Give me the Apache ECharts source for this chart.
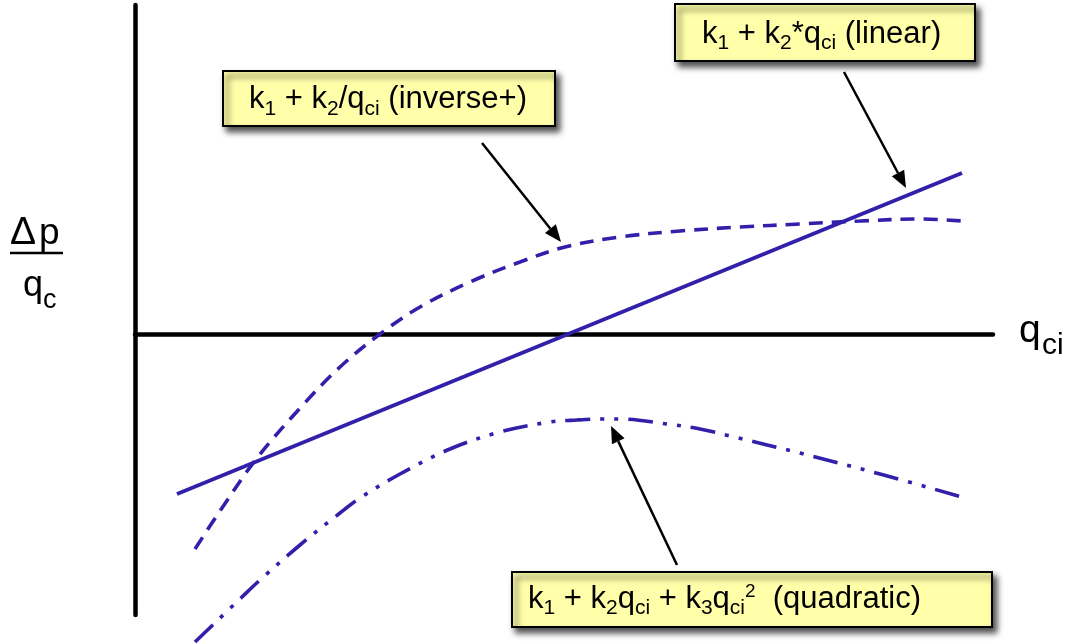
<!DOCTYPE html>
<html>
<head>
<meta charset="utf-8">
<script src="https://cdn.jsdelivr.net/npm/echarts@6/dist/echarts.min.js"></script>
<style>html,body{margin:0;padding:0;background:#fff}#c{width:1066px;height:644px}</style>
</head>
<body>
<div id="c"></div>
<script>
// x = q_ci (arbitrary units), y = Δp/q_c (arbitrary units); 0 is where the axes cross
const linearQ = [4.2, 82.7];
const linearVal = [-16.0, 16.1];

const inverseQ = [6.0, 8.5, 12.2, 16.7, 20.5, 24.5, 28.5, 33.5, 38.5, 43.0, 48.5, 54.5, 60.5, 66.5, 72.5, 78.5, 82.7];
const inverseVal = [-21.5, -17.7, -12.4, -7.2, -3.3, 0.0, 2.7, 5.2, 7.2, 8.7, 9.7, 10.3, 10.7, 11.0, 11.3, 11.5, 11.3];

const quadQ = [6.0, 10.7, 12.5, 16.5, 20.5, 22.5, 26.5, 31.5, 36.5, 41.5, 44.2, 46.8, 48.5, 53.2, 56.5, 59.5, 66.5, 74.5, 82.7];
const quadVal = [-30.8, -26.3, -24.6, -21.1, -17.9, -16.4, -14.0, -11.5, -9.8, -8.8, -8.6, -8.5, -8.5, -9.0, -9.5, -10.2, -11.9, -14.0, -16.3];

const labelLinear = '{m|k}{s|1}{m| + k}{s|2}{m|*q}{s|ci}{m| (linear)}';
const labelInverse = '{m|k}{s|1}{m| + k}{s|2}{m|/q}{s|ci}{m| (inverse+)}';
const labelQuad = '{m|k}{s|1}{m| + k}{s|2}{m|q}{s|ci}{m| + k}{s|3}{m|q}{s|ci}{p|2}{m|  (quadratic)}';

const zip = (a, b) => a.map((v, i) => [v, b[i]]);
const FONT = '"Liberation Sans", Arial, Helvetica, sans-serif';
const LINE = '#3220AA';

const rich = {
  m: {fontSize: 31, fontFamily: FONT, color: '#000', verticalAlign: 'top', padding: [4, 0, 0, 0]},
  s: {fontSize: 21, fontFamily: FONT, color: '#000', verticalAlign: 'top', padding: [18, 0, 0, 0]},
  p: {fontSize: 19, fontFamily: FONT, color: '#000', verticalAlign: 'top', padding: [2, 0, 0, 0]}
};

function box(x, y, w, h, label, tx, baseline) {
  return [
    {type: 'rect', shape: {x: x, y: y, width: w, height: h}, z: 10,
     style: {fill: '#FFFFAA', stroke: '#000', lineWidth: 2,
             shadowBlur: 6, shadowOffsetX: 4, shadowOffsetY: 5, shadowColor: 'rgba(0,0,0,0.7)'}},
    {type: 'text', x: tx, y: baseline - 10.7, z: 11,
     style: {text: label, rich: rich, verticalAlign: 'middle', align: 'left', fontFamily: FONT}}
  ];
}

function arrow(x1, y1, x2, y2) {
  const a = Math.atan2(y2 - y1, x2 - x1);
  const L = 17, W = 7;
  const bx = x2 - L * Math.cos(a), by = y2 - L * Math.sin(a);
  const px = -Math.sin(a) * W, py = Math.cos(a) * W;
  return [
    {type: 'line', shape: {x1: x1, y1: y1, x2: bx, y2: by}, z: 12, style: {stroke: '#000', lineWidth: 2.5}},
    {type: 'polygon', shape: {points: [[x2, y2], [bx + px, by + py], [bx - px, by - py]]}, z: 12, style: {fill: '#000'}}
  ];
}

const chart = echarts.init(document.getElementById('c'), null, {renderer: 'canvas'});
chart.setOption({
  animation: false,
  backgroundColor: '#fff',
  grid: {left: 135, right: 73, top: 5, bottom: 29},
  xAxis: {type: 'value', min: 0, max: 85.8,
          axisLine: {show: true, onZero: true, lineStyle: {color: '#000', width: 4.5}},
          axisTick: {show: false}, axisLabel: {show: false}, splitLine: {show: false}},
  yAxis: {type: 'value', min: -28.1, max: 32.9,
          axisLine: {show: true, onZero: true, lineStyle: {color: '#000', width: 4.5}},
          axisTick: {show: false}, axisLabel: {show: false}, splitLine: {show: false}},
  series: [
    {type: 'line', name: 'linear', data: zip(linearQ, linearVal), showSymbol: false, clip: false,
     lineStyle: {color: LINE, width: 3.8}},
    {type: 'line', name: 'inverse+', data: zip(inverseQ, inverseVal), showSymbol: false, clip: false, smooth: 0.35,
     lineStyle: {color: LINE, width: 3.6, type: [14, 9]}},
    {type: 'line', name: 'quadratic', data: zip(quadQ, quadVal), showSymbol: false, clip: false, smooth: 0.35,
     lineStyle: {color: LINE, width: 3.6, type: [25, 10, 4, 10, 4, 10]}}
  ],
  graphic: [].concat(
    box(223, 71, 332, 55, labelInverse, 249, 110.5),
    box(675, 4, 300, 57, labelLinear, 702, 45),
    box(512, 572, 480, 55, labelQuad, 528, 610),
    arrow(482, 143, 561, 242),
    arrow(844, 72, 906, 188),
    arrow(677, 565, 611, 426),
    [
      {type: 'text', x: 10, y: 247 - 13.5, style: {text: 'Δ', fontSize: 39, fontFamily: FONT, fill: '#000', verticalAlign: 'middle'}},
      {type: 'text', x: 39, y: 247 - 12.8, style: {text: 'p', fontSize: 37, fontFamily: FONT, fill: '#000', verticalAlign: 'middle'}},
      {type: 'line', shape: {x1: 10, y1: 253, x2: 63, y2: 253}, style: {stroke: '#000', lineWidth: 2.5}},
      {type: 'text', x: 23, y: 299 - 12.5, style: {text: 'q', fontSize: 36, fontFamily: FONT, fill: '#000', verticalAlign: 'middle'}},
      {type: 'text', x: 43, y: 310 - 9.4, style: {text: 'c', fontSize: 27, fontFamily: FONT, fill: '#000', verticalAlign: 'middle'}},
      {type: 'text', x: 1019, y: 345 - 13.5, style: {text: 'q', fontSize: 39, fontFamily: FONT, fill: '#000', verticalAlign: 'middle'}},
      {type: 'text', x: 1042, y: 356 - 10.4, style: {text: 'ci', fontSize: 30, fontFamily: FONT, fill: '#000', verticalAlign: 'middle'}}
    ]
  )
});
</script>
</body>
</html>
